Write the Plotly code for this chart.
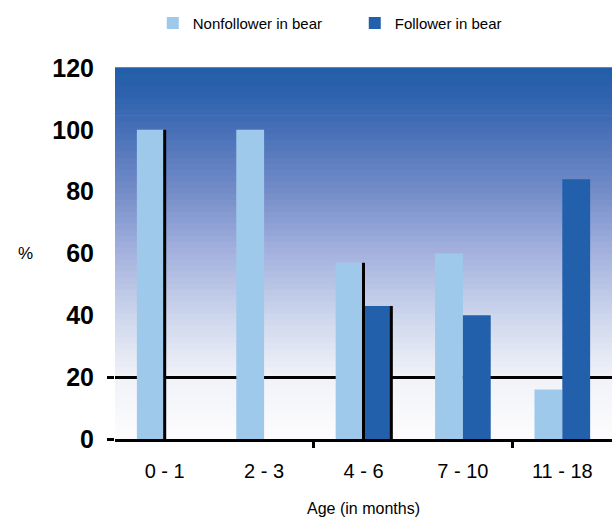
import plotly.graph_objects as go

# Age groups and the share (%) of each group in the two categories
age_groups = ["0 - 1", "2 - 3", "4 - 6", "7 - 10", "11 - 18"]
nonfollower_pct = [100, 100, 57, 60, 16]
follower_pct = [0, 0, 43, 40, 84]
series_names = ["Nonfollower in bear", "Follower in bear"]
y_ticks = [0, 20, 40, 60, 80, 100, 120]

# Bars that carry a dark right-hand edge: (series index, group index)
edged_bars = [(0, 0), (0, 2), (1, 2)]

LIGHT = "#9fc9eb"
DARK = "#2260ab"
BARGAP = 0.44

fig = go.Figure()
fig.add_trace(go.Bar(x=age_groups, y=nonfollower_pct, name=series_names[0],
                     marker=dict(color=LIGHT, line=dict(width=0))))
fig.add_trace(go.Bar(x=age_groups, y=follower_pct, name=series_names[1],
                     marker=dict(color=DARK, line=dict(width=0))))
# Empty trace so the overlay axes (boundary ticks, 20% rule) are drawn
fig.add_trace(go.Scatter(x=[None], y=[None], xaxis="x2", yaxis="y2",
                         showlegend=False, hoverinfo="skip"))

# Banded vertical gradient behind the plot
stops = [(0.0, (253, 253, 254)), (0.17, (240, 242, 248)), (0.33, (205, 214, 236)),
         (0.5, (165, 178, 222)), (0.67, (115, 140, 200)), (0.83, (72, 112, 184)),
         (0.93, (45, 98, 174)), (1.0, (34, 94, 168))]


def grad(t):
    for (t0, c0), (t1, c1) in zip(stops[:-1], stops[1:]):
        if t0 <= t <= t1:
            f = (t - t0) / (t1 - t0)
            return "rgb(%d,%d,%d)" % tuple(round(a + (b - a) * f) for a, b in zip(c0, c1))
    return "rgb(%d,%d,%d)" % stops[-1][1]


n_bands = 62
for k in range(n_bands):
    y0 = k / n_bands
    y1 = (k + 1) / n_bands
    fig.add_shape(type="rect", xref="x domain", yref="y domain",
                  x0=0, x1=1, y0=y0, y1=y1 + 0.002, layer="below",
                  line=dict(width=0), fillcolor=grad((y0 + y1) / 2))

# Dark right-hand edges on selected bars
bar_w = (1 - BARGAP) / 2
values = [nonfollower_pct, follower_pct]
for s, i in edged_bars:
    xr = i + s * bar_w
    fig.add_shape(type="line", xref="x2", yref="y", x0=xr, x1=xr, y0=0, y1=values[s][i],
                  line=dict(color="black", width=3), layer="above")

# Horizontal "%" label beside the value axis
fig.add_annotation(text="%", xref="paper", yref="y", x=-0.18, y=60,
                   showarrow=False, font=dict(size=17), xanchor="center")

fig.update_layout(
    width=612, height=519,
    margin=dict(l=115, r=0, t=68, b=80),
    paper_bgcolor="white", plot_bgcolor="white",
    barmode="group", bargap=BARGAP, bargroupgap=0,
    font=dict(family="Liberation Sans, Arial, sans-serif", color="black"),
    showlegend=True,
    legend=dict(orientation="h", x=0.076, xanchor="left", y=1.165, yanchor="top",
                font=dict(size=15), itemwidth=30, traceorder="normal",
                entrywidth=157, entrywidthmode="pixels", tracegroupgap=0),
    xaxis=dict(type="category", showline=True, linecolor="black", linewidth=3,
               ticks="", showgrid=False, tickfont=dict(size=20),
               ticklabelstandoff=12,
               title=dict(text="Age (in months)", font=dict(size=16), standoff=22)),
    xaxis2=dict(overlaying="x", anchor="y", side="bottom", range=[-0.5, 4.5],
                tickvals=[1.5, 3.5], ticks="outside", ticklen=8, tickwidth=3,
                tickcolor="black", showticklabels=False, showgrid=False,
                showline=False, zeroline=False),
    yaxis=dict(range=[0, 120], tickvals=y_ticks, ticks="", showgrid=False,
               zeroline=False, showline=False,
               tickfont=dict(size=25, weight="bold"), ticklabelstandoff=20),
    yaxis2=dict(overlaying="y", anchor="x", side="left", range=[0, 120],
                tickvals=[0, 20], ticks="outside", ticklen=7, tickwidth=3,
                tickcolor="black", showticklabels=False, showgrid=True,
                gridcolor="black", gridwidth=3, zeroline=False, showline=False),
)

fig.write_html("out.html")
